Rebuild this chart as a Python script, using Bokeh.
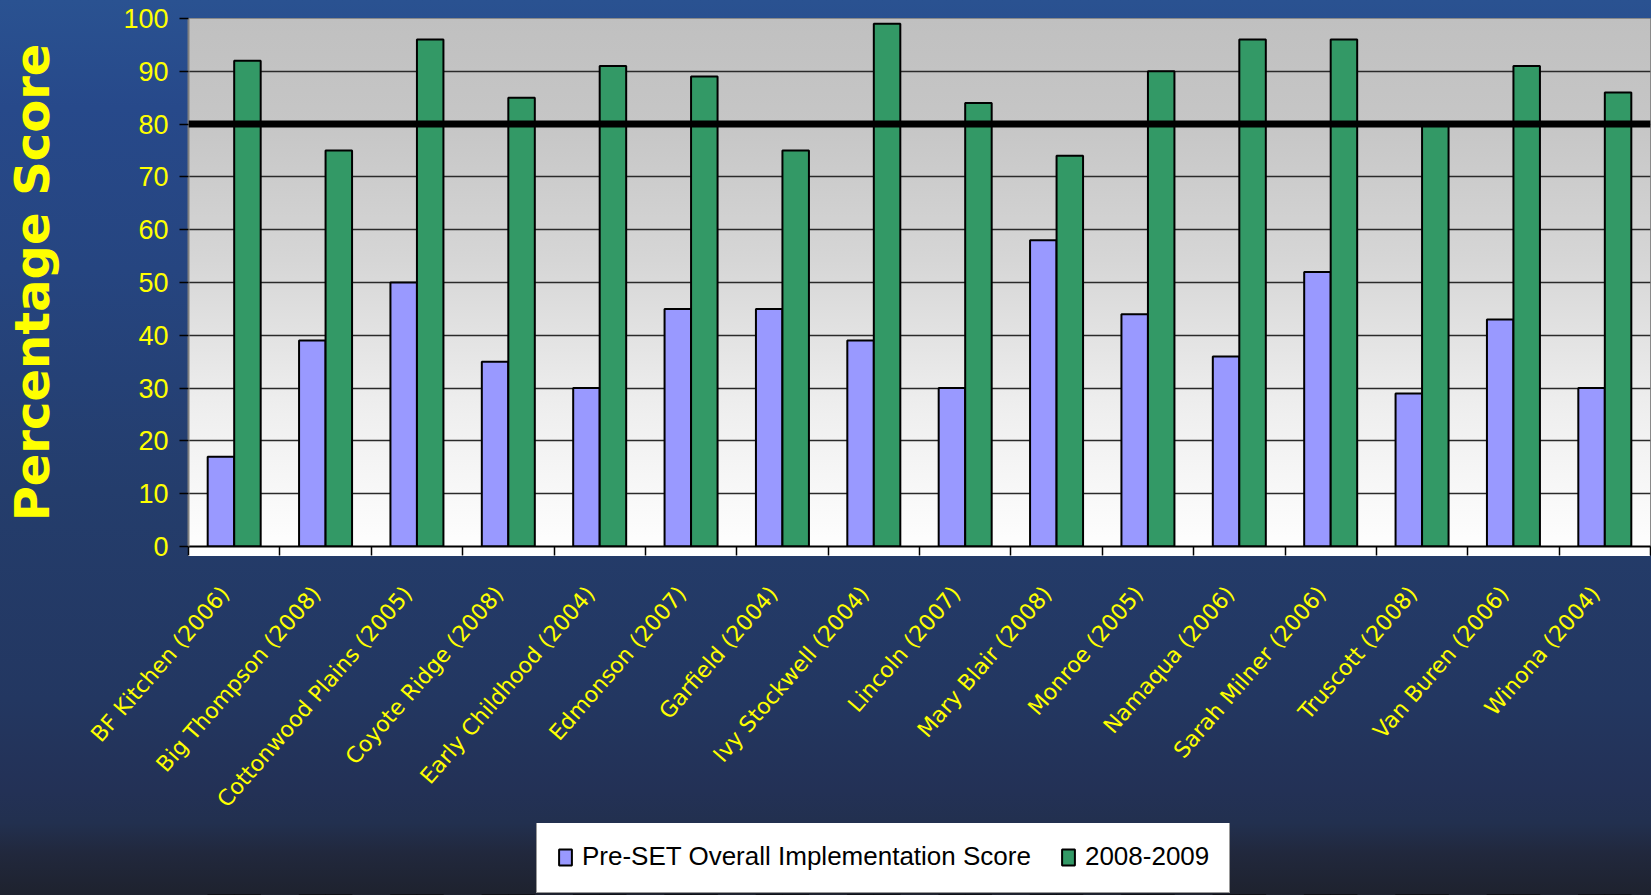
import math
from bokeh.plotting import figure
from bokeh.layouts import column
from bokeh.models import (Range1d, LinearAxis, FixedTicker,
                          Span, Legend, LegendItem, ColumnDataSource)
from bokeh.transform import dodge
from bokeh.embed import file_html
from bokeh.resources import INLINE

# ---------------- data ----------------
schools = ["BF Kitchen (2006)", "Big Thompson (2008)", "Cottonwood Plains (2005)",
           "Coyote Ridge (2008)", "Early Childhood (2004)", "Edmonson (2007)",
           "Garfield (2004)", "Ivy Stockwell (2004)", "Lincoln (2007)", "Mary Blair (2008)",
           "Monroe (2005)", "Namaqua (2006)", "Sarah Milner (2006)", "Truscott (2008)",
           "Van Buren (2006)", "Winona (2004)"]
pre_set = [17, 39, 50, 35, 30, 45, 45, 39, 30, 58, 44, 36, 52, 29, 43, 30]
score_2008_2009 = [92, 75, 96, 85, 91, 89, 75, 99, 84, 74, 90, 96, 96, 80, 91, 86]
series_names = ["Pre-SET Overall Implementation Score", "2008-2009"]
y_ticks = [0, 10, 20, 30, 40, 50, 60, 70, 80, 90, 100]
target = 80
y_title = "Percentage Score"

# ---------------- layout ----------------
W = 1651
H_MAIN, H_LEG = 823, 72
FL, FT, FR = 188, 18, 1
FB = H_MAIN - 556
FW, FH = W - FL - FR, H_MAIN - FT - FB

n = len(schools)
centers = [i + 0.5 for i in range(n)]
bounds = list(range(n + 1))
label_ticks = [c - 0.1 for c in centers]
src = ColumnDataSource(dict(x=centers, school=schools, pre=pre_set, cur=score_2008_2009))

p = figure(width=W, height=H_MAIN,
           x_range=Range1d(0, n),
           y_range=Range1d(y_ticks[0], y_ticks[-1]),
           output_backend="svg", toolbar_location=None,
           x_axis_location=None, y_axis_location="left",
           min_border_left=FL, min_border_right=FR, min_border_top=FT, min_border_bottom=FB)

p.background_fill_alpha = 0
p.border_fill_alpha = 0
p.outline_line_color = "#8a8a8a"
p.outline_line_width = 1
p.styles = {
    "background": (
        f"linear-gradient(to bottom, #c0c0c0 0%, #c6c6c6 20%, #d6d6d6 45%, #eeeeee 72%, #ffffff 100%) "
        f"{FL}px {FT}px / {FW}px {FH}px no-repeat, "
        "linear-gradient(to bottom, #2a5291 0px, #27498a 107px, #264580 270px, #243d6c 490px, "
        "#233761 700px, #233156 790px, #22304f 823px)"
    )
}

# grid
p.xgrid.grid_line_color = None
p.ygrid.ticker = FixedTicker(ticks=y_ticks)
p.ygrid.grid_line_color = "#2a2a2a"
p.ygrid.grid_line_width = 1.5

# y axis
yax = p.yaxis[0]
yax.ticker = FixedTicker(ticks=y_ticks)
yax.axis_line_color = "#808080"
yax.axis_line_width = 2
yax.major_tick_line_color = "black"
yax.major_tick_line_width = 1.5
yax.major_tick_out = 9
yax.major_tick_in = 0
yax.minor_tick_line_color = None
yax.major_label_text_color = "#ffff00"
yax.major_label_text_font = "Liberation Sans"
yax.major_label_text_font_size = "27px"
yax.major_label_standoff = 11
yax.axis_label = y_title
yax.axis_label_text_color = "#ffff00"
yax.axis_label_text_font = "DejaVu Sans"
yax.axis_label_text_font_style = "bold"
yax.axis_label_text_font_size = "48px"
yax.axis_label_standoff = 60

# x axis: ticks between categories (minor), labels at category centres
xax = LinearAxis(ticker=FixedTicker(ticks=label_ticks, minor_ticks=bounds),
                 major_label_overrides={t: s for t, s in zip(label_ticks, schools)},
                 major_label_orientation=math.radians(49),
                 major_tick_out=0, major_tick_in=0,
                 minor_tick_out=9, minor_tick_in=0,
                 minor_tick_line_color="black", minor_tick_line_width=1.5,
                 axis_line_color="black", axis_line_width=2,
                 major_label_text_color="#ffff00",
                 major_label_text_font="DejaVu Sans",
                 major_label_text_font_size="22px",
                 major_label_standoff=34)
p.add_layout(xax, "below")

# bars
r_pre = p.vbar(x=dodge("x", -0.145), top="pre", width=0.29,
               source=src, fill_color="#9999ff", line_color="black", line_width=2)
r_cur = p.vbar(x=dodge("x", 0.145), top="cur", width=0.29,
               source=src, fill_color="#339966", line_color="black", line_width=2)

# target line
p.add_layout(Span(location=target, dimension="width", line_color="black", line_width=7))

# ---------------- legend strip ----------------
pl = figure(width=W, height=H_LEG, x_range=Range1d(0, n), y_range=Range1d(1000, 1001),
            output_backend="svg", toolbar_location=None,
            x_axis_location=None, y_axis_location=None,
            min_border_left=0, min_border_right=0, min_border_top=0, min_border_bottom=0)
pl.background_fill_alpha = 0
pl.border_fill_alpha = 0
pl.outline_line_color = None
pl.xgrid.visible = False
pl.ygrid.visible = False
pl.styles = {"background": "linear-gradient(to bottom, #22304f 0px, #21283d 30px, #1e222e 72px)"}

lr_pre = pl.vbar(x=dodge("x", -0.145), top="pre", width=0.29,
                 source=src, fill_color="#9999ff", line_color="black", line_width=2)
lr_cur = pl.vbar(x=dodge("x", 0.145), top="cur", width=0.29,
                 source=src, fill_color="#339966", line_color="black", line_width=2)

# the column aligns this strip's frame with the chart's frame (left edge at FL)
legend = Legend(items=[LegendItem(label=series_names[0], renderers=[lr_pre]),
                       LegendItem(label=series_names[1], renderers=[lr_cur])],
                orientation="horizontal", location=(536 - FL, 2),
                glyph_width=16, glyph_height=20, label_standoff=9, spacing=29,
                padding=20, margin=0, label_height=30,
                label_text_font="Liberation Sans", label_text_font_size="26px",
                label_text_color="black",
                background_fill_color="white", background_fill_alpha=1,
                border_line_color="#333333", border_line_width=1)
pl.add_layout(legend, "center")

layout = column(p, pl, spacing=0)
open("out.html", "w").write(file_html(layout, INLINE))
